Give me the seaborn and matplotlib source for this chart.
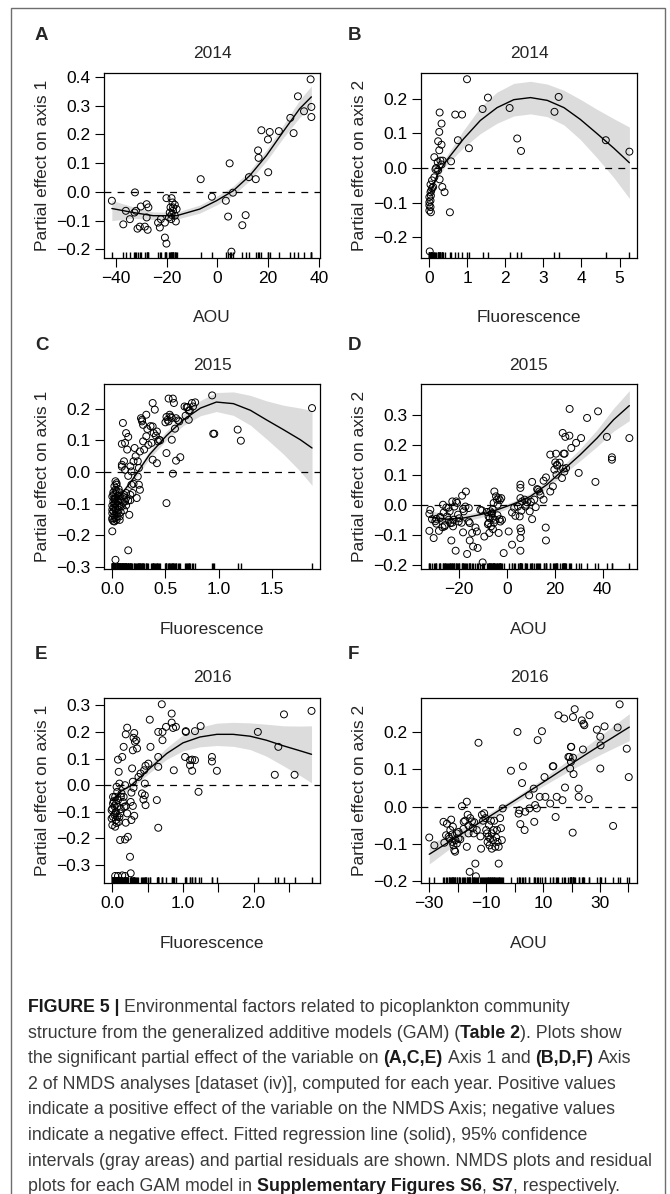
import numpy as np
import pandas as pd
import matplotlib
matplotlib.use("Agg")
import matplotlib.pyplot as plt
import seaborn as sns
from matplotlib.patches import Rectangle

# ---------------- DATA ----------------
# Panel A (2014, AOU vs axis 1)
A_points = [(-41.6,-0.031),(-32.5,-0.002),(-36.1,-0.066),(-37.1,-0.113),(-34.5,-0.095),(-32.1,-0.066),
            (-32.7,-0.072),(-30.2,-0.051),(-31.5,-0.128),(-30.6,-0.121),(-28.6,-0.121),(-27.5,-0.132),
            (-27.9,-0.043),(-27.2,-0.054),(-27.9,-0.089),(-23.4,-0.107),(-22.7,-0.124),(-22.3,-0.095),
            (-20.7,-0.107),(-20.7,-0.159),(-20.1,-0.180),(-20.1,-0.022),(-18.1,-0.022),(-17.7,-0.037),
            (-18.5,-0.054),(-17.5,-0.054),(-16.8,-0.045),(-18.8,-0.072),(-18.1,-0.080),(-17.5,-0.066),
            (-16.8,-0.083),(-16.1,-0.060),(-19.1,-0.089),(-16.4,-0.103),(-18.2,-0.095),(-6.6,0.044),
            (-2.2,-0.017),(3.3,-0.031),(4.8,0.099),(4.2,-0.086),(6.1,-0.003),(5.5,-0.208),(9.8,-0.116),
            (11.1,-0.081),(12.4,0.051),(15.1,0.044),(16.0,0.144),(16.2,0.118),(17.3,0.214),(19.9,0.182),
            (20.6,0.208),(20.0,0.068),(24.2,0.211),(28.7,0.257),(30.0,0.204),(31.7,0.332),(34.1,0.280),
            (36.7,0.391),(37.0,0.295),(37.0,0.260)]
A_curve_x = [-41.6, -33.2, -25.3, -16.1, -7.0, -0.4, 6.1, 12.7, 19.3, 25.8, 32.4, 37.0]
A_curve_y = [-0.058, -0.072, -0.083, -0.083, -0.060, -0.031, 0.003, 0.056, 0.126, 0.208, 0.289, 0.330]
A_lower = [-0.100, -0.092, -0.096, -0.095, -0.074, -0.046, -0.013, 0.039, 0.107, 0.186, 0.259, 0.292]
A_upper = [-0.030, -0.052, -0.070, -0.071, -0.046, -0.016, 0.019, 0.073, 0.145, 0.230, 0.319, 0.368]
A_xticks = [-40, -20, 0, 20, 40]
A_xticklabels = ["\u221240", "\u221220", "0", "20", "40"]
A_yticks = [-0.2, -0.1, 0.0, 0.1, 0.2, 0.3, 0.4]

# Panel B (2014, Fluorescence vs axis 2)
B_points = [(0.99,0.256),(1.54,0.203),(1.40,0.170),(2.11,0.173),(2.31,0.085),(2.41,0.049),(3.29,0.162),
            (3.40,0.205),(4.64,0.080),(5.26,0.047),(0.68,0.154),(0.86,0.154),(0.75,0.080),(1.04,0.057),
            (0.57,0.019),(0.54,-0.128),(0.40,-0.070),(0.34,-0.055),(0.27,0.160),(0.32,0.128),(0.26,0.104),
            (0.23,0.077),(0.32,0.067),(0.26,0.051),(0.13,0.031),(0.29,0.021),(0.35,0.021),(0.22,0.017),
            (0.32,0.010),(0.18,0.000),(0.23,-0.007),(0.16,-0.004),(0.27,-0.033),(0.13,-0.027),(0.07,-0.036),
            (0.03,-0.048),(0.07,-0.058),(0.03,-0.070),(0.04,-0.080),(0.00,-0.084),(0.03,-0.094),(0.00,-0.108),
            (0.03,-0.113),(0.00,-0.123),(0.04,-0.128),(0.00,-0.099),(0.05,-0.065),(0.01,-0.241),(0.10,-0.055)]
B_curve_x = [0.03, 0.20, 0.42, 0.90, 1.34, 1.78, 2.22, 2.66, 3.10, 3.54, 3.97, 4.41, 4.85, 5.26]
B_curve_y = [-0.070, -0.022, 0.017, 0.084, 0.137, 0.174, 0.197, 0.203, 0.195, 0.174, 0.140, 0.099, 0.057, 0.015]
B_lower = [-0.082, -0.032, 0.005, 0.059, 0.099, 0.129, 0.150, 0.156, 0.148, 0.124, 0.082, 0.029, -0.028, -0.088]
B_upper = [-0.058, -0.012, 0.029, 0.109, 0.175, 0.219, 0.244, 0.250, 0.242, 0.224, 0.198, 0.169, 0.142, 0.118]
B_xticks = [0, 1, 2, 3, 4, 5]
B_xticklabels = ["0", "1", "2", "3", "4", "5"]
B_yticks = [-0.2, -0.1, 0.0, 0.1, 0.2]

# Panel C (2015, Fluorescence vs axis 1)
C_points = [(0.94,0.242),(0.96,0.121),(0.95,0.121),(1.18,0.134),(1.21,0.099),(1.88,0.202),(0.78,0.220),
            (0.76,0.207),(0.72,0.194),(0.75,0.218),(0.68,0.207),(0.69,0.178),(0.72,0.165),(0.62,0.163),
            (0.59,0.137),(0.60,0.036),(0.64,0.047),(0.57,-0.005),(0.56,0.102),(0.51,0.060),(0.51,-0.098),
            (0.53,0.232),(0.57,0.232),(0.58,0.218),(0.54,0.181),(0.51,0.174),(0.53,0.160),(0.56,0.171),
            (0.50,0.157),(0.38,0.218),(0.40,0.197),(0.32,0.181),(0.28,0.165),(0.29,0.149),(0.33,0.136),
            (0.38,0.144),(0.39,0.123),(0.32,0.113),(0.29,0.097),(0.34,0.086),(0.42,0.128),(0.43,0.097),
            (0.44,0.102),(0.37,0.092),(0.38,0.039),(0.42,0.028),(0.30,0.071),(0.26,0.065),(0.21,0.076),
            (0.22,0.050),(0.20,0.034),(0.24,0.034),(0.25,0.013),(0.24,-0.014),(0.17,0.018),(0.18,0.002),
            (0.15,-0.012),(0.10,0.155),(0.13,0.123),(0.15,0.111),(0.12,0.092),(0.09,0.089),(0.14,0.071),
            (0.09,0.023),(0.12,0.007),(0.18,-0.040),(0.25,-0.040),(0.20,-0.037),(0.17,-0.072),(0.13,-0.082),
            (0.17,-0.089),(0.10,-0.077),(0.12,-0.093),(0.16,-0.135),(0.15,-0.247),(0.00,-0.187),(0.03,-0.277),
            (0.03,-0.029),(0.04,-0.040),(0.03,-0.056),(0.06,-0.054),(0.01,-0.064),(0.07,-0.064),(0.00,-0.077),
            (0.03,-0.082),(0.05,-0.077),(0.01,-0.093),(0.03,-0.098),(0.06,-0.093),(0.00,-0.106),(0.03,-0.114),
            (0.05,-0.106),(0.01,-0.124),(0.04,-0.127),(0.02,-0.138),(0.00,-0.145),(0.04,-0.151),(0.07,-0.140),
            (0.09,-0.108),(0.08,-0.127),(0.02,-0.156),(0.06,-0.119),(0.10,-0.096),(0.03,-0.068),(0.00,-0.119),
            (0.02,-0.087),(0.07,-0.151),(0.11,-0.072),(0.13,-0.066),(0.19,-0.066),(0.26,-0.056),(0.23,-0.082),
            (0.09,0.017),(0.11,0.034),(0.01,-0.072),(0.02,-0.100),(0.00,-0.130),(0.03,-0.145),(0.05,-0.090),
            (0.01,-0.112),(0.04,-0.060),(0.02,-0.083),(0.06,-0.075),(0.00,-0.150),(0.03,-0.120),(0.05,-0.140),
            (0.01,-0.155),(0.07,-0.110),(0.08,-0.085),(0.02,-0.045),(0.04,-0.035),(0.11,-0.120),(0.13,-0.105),
            (0.15,-0.090),(0.27,0.170),(0.28,0.160),(0.36,0.145),(0.41,0.115),(0.45,0.100),(0.52,0.165),
            (0.55,0.175),(0.60,0.170),(0.63,0.160),(0.70,0.205),(0.71,0.205),(0.73,0.195)]
C_curve_x = [0.00, 0.10, 0.20, 0.35, 0.51, 0.67, 0.83, 0.98, 1.14, 1.30, 1.45, 1.61, 1.77, 1.88]
C_curve_y = [-0.108, -0.064, -0.019, 0.055, 0.115, 0.165, 0.202, 0.221, 0.216, 0.195, 0.165, 0.134, 0.102, 0.076]
C_lower = [-0.120, -0.074, -0.029, 0.043, 0.101, 0.147, 0.178, 0.191, 0.179, 0.148, 0.105, 0.057, 0.002, -0.042]
C_upper = [-0.096, -0.054, -0.009, 0.067, 0.129, 0.183, 0.226, 0.251, 0.253, 0.242, 0.225, 0.211, 0.202, 0.194]
C_xticks = [0.0, 0.5, 1.0, 1.5]
C_xticklabels = ["0.0", "0.5", "1.0", "1.5"]
C_yticks = [-0.3, -0.2, -0.1, 0.0, 0.1, 0.2]

# Panel D (2015, AOU vs axis 2)
D_points = [(-32.5,-0.030),(-32.1,-0.017),(-31.4,-0.048),(-32.5,-0.087),(-30.7,-0.111),(-29.6,-0.047),
            (-29.6,-0.063),(-28.5,-0.087),(-27.9,-0.044),(-26.8,0.000),(-26.5,-0.026),(-26.1,-0.072),
            (-25.4,-0.009),(-25.1,-0.039),(-24.4,-0.050),(-24.0,-0.022),(-23.7,-0.061),(-23.3,-0.119),
            (-22.9,0.011),(-22.6,-0.072),(-22.3,-0.050),(-21.5,-0.153),(-22.0,-0.006),(-20.9,0.006),
            (-21.3,0.011),(-20.5,-0.033),(-20.2,-0.056),(-18.8,0.030),(-18.4,-0.014),(-18.1,-0.022),
            (-18.4,-0.092),(-17.4,-0.006),(-17.2,0.044),(-16.7,-0.164),(-16.0,-0.011),(-16.0,-0.056),
            (-15.6,-0.061),(-15.6,-0.119),(-14.6,-0.094),(-14.2,-0.139),(-13.2,-0.076),(-12.6,-0.089),
            (-12.3,-0.144),(-11.2,-0.017),(-10.5,-0.019),(-10.2,-0.192),(-9.5,-0.106),(-8.4,-0.024),
            (-7.7,-0.039),(-7.7,-0.061),(-7.4,-0.094),(-7.0,-0.022),(-6.7,-0.072),(-6.3,-0.028),
            (-6.0,-0.044),(-5.9,-0.081),(-5.6,0.006),(-5.3,0.044),(-4.9,-0.050),(-4.6,0.028),(-4.2,0.017),
            (-3.9,0.000),(-3.5,0.022),(-3.1,-0.048),(-2.8,-0.056),(-2.1,-0.050),(-2.4,0.022),(-3.5,-0.094),
            (-1.4,-0.161),(0.7,-0.089),(2.1,-0.026),(2.1,-0.133),(3.5,-0.037),(4.6,-0.006),(5.6,0.067),
            (5.6,0.056),(5.6,0.022),(5.3,-0.039),(5.6,-0.078),(5.9,-0.089),(5.6,-0.111),(5.6,-0.153),
            (6.3,0.011),(7.4,0.017),(7.7,-0.006),(8.4,0.008),(9.5,-0.022),(10.5,0.076),(10.5,-0.048),
            (11.4,0.017),(12.0,-0.008),(12.6,0.052),(13.5,0.044),(14.0,0.033),(15.3,0.017),(15.3,0.080),
            (16.3,0.091),(16.2,-0.076),(16.3,-0.119),(18.1,0.167),(18.1,0.044),(19.2,0.061),(19.8,0.117),
            (20.2,0.141),(20.5,0.170),(20.9,0.133),(20.7,0.100),(23.0,0.089),(23.3,0.239),(23.7,0.170),
            (24.1,0.170),(24.4,0.226),(24.7,0.122),(26.1,0.230),(26.9,0.189),(28.9,0.206),(30.0,0.106),
            (31.0,0.222),(33.5,0.289),(37.0,0.076),(38.1,0.311),(41.8,0.226),(43.9,0.158),(43.9,0.150),
            (51.2,0.222),(26.2,0.319),(-6.5,-0.030),(-7.2,-0.045),(-5.5,-0.060),(-4.0,-0.035),(-6.0,-0.015),
            (-3.0,0.015),(-8.0,-0.065),(-23.0,-0.060),(-26.0,-0.068),(-28.0,-0.040),(-24.5,-0.010),
            (-20.0,-0.045),(-19.0,-0.060),(-30.0,-0.055),(-27.0,-0.075),(22.0,0.140),(21.0,0.130),
            (23.5,0.120),(24.0,0.110),(3.0,-0.010),(6.0,-0.020),(8.0,0.000),(13.0,0.050),(10.0,0.010)]
D_curve_x = [-32.5, -25.1, -18.1, -11.2, -4.2, 2.8, 9.8, 16.7, 23.7, 30.7, 37.7, 44.6, 51.2]
D_curve_y = [-0.041, -0.048, -0.044, -0.033, -0.017, 0.003, 0.028, 0.067, 0.117, 0.167, 0.222, 0.283, 0.330]
D_lower = [-0.063, -0.063, -0.056, -0.043, -0.026, -0.006, 0.018, 0.055, 0.102, 0.147, 0.194, 0.245, 0.280]
D_upper = [-0.019, -0.033, -0.032, -0.023, -0.008, 0.012, 0.038, 0.079, 0.132, 0.187, 0.250, 0.321, 0.380]
D_xticks = [-20, 0, 20, 40]
D_xticklabels = ["\u221220", "0", "20", "40"]
D_yticks = [-0.2, -0.1, 0.0, 0.1, 0.2, 0.3]

# Panel E (2016, Fluorescence vs axis 1)
E_points = [(2.82,0.279),(2.43,0.266),(2.06,0.200),(2.35,0.144),(2.30,0.039),(2.58,0.039),(1.48,0.054),
            (1.41,0.106),(1.41,0.089),(1.22,-0.025),(1.25,0.222),(1.17,0.203),(1.13,0.096),(1.17,0.094),
            (1.10,0.075),(1.10,0.094),(1.13,0.054),(1.04,0.203),(1.04,0.200),(1.03,0.106),(0.87,0.056),
            (0.90,0.219),(0.86,0.215),(0.84,0.235),(0.84,0.269),(0.76,0.219),(0.71,0.200),(0.70,0.304),
            (0.65,0.200),(0.71,0.169),(0.65,0.106),(0.65,0.069),(0.63,-0.056),(0.65,-0.160),(0.53,0.246),
            (0.54,0.144),(0.51,0.081),(0.47,0.073),(0.45,0.056),(0.46,0.006),(0.46,-0.038),(0.44,-0.054),
            (0.47,-0.075),(0.42,-0.031),(0.40,0.044),(0.37,0.031),(0.35,0.138),(0.31,0.196),(0.34,0.169),
            (0.32,0.163),(0.30,0.178),(0.29,0.131),(0.28,0.063),(0.29,0.013),(0.30,-0.010),(0.27,-0.028),
            (0.26,-0.063),(0.29,-0.078),(0.27,-0.131),(0.31,-0.115),(0.21,0.216),(0.19,0.191),(0.16,0.144),
            (0.14,0.106),(0.09,0.050),(0.18,0.000),(0.16,-0.044),(0.19,-0.079),(0.21,-0.106),(0.19,-0.141),
            (0.17,-0.081),(0.08,0.096),(0.11,-0.206),(0.18,-0.204),(0.22,-0.194),(0.25,-0.269),(0.10,0.006),
            (0.07,-0.025),(0.04,-0.044),(0.01,-0.069),(-0.01,-0.094),(0.01,-0.119),(0.05,-0.131),(0.00,-0.150),
            (0.04,-0.106),(0.07,-0.081),(0.08,-0.056),(0.11,-0.106),(0.09,-0.138),(0.04,-0.156),(0.01,-0.044),
            (0.06,-0.006),(0.12,-0.044),(0.15,-0.063),(0.13,-0.031),(0.00,-0.088),(0.03,-0.079),(0.05,-0.100),
            (-0.01,-0.125),(0.07,-0.119),(0.08,-0.341),(0.14,-0.339),(0.18,-0.341),(0.26,-0.331),(0.04,-0.341),
            (0.02,-0.060),(0.03,-0.112),(0.06,-0.142),(0.10,-0.120),(0.12,-0.090),(0.05,-0.070)]
E_curve_x = [0.00, 0.11, 0.27, 0.53, 0.77, 1.00, 1.24, 1.48, 1.71, 1.95, 2.18, 2.42, 2.66, 2.82]
E_curve_y = [-0.056, -0.025, 0.000, 0.063, 0.119, 0.159, 0.181, 0.191, 0.191, 0.184, 0.169, 0.148, 0.129, 0.116]
E_lower = [-0.071, -0.037, -0.012, 0.047, 0.097, 0.129, 0.144, 0.149, 0.146, 0.134, 0.109, 0.073, 0.036, 0.009]
E_upper = [-0.041, -0.013, 0.012, 0.079, 0.141, 0.189, 0.218, 0.233, 0.236, 0.234, 0.229, 0.223, 0.222, 0.223]
E_xticks = [0.0, 0.5, 1.0, 1.5, 2.0, 2.5]
E_xticklabels = ["0.0", "", "1.0", "", "2.0", ""]
E_yticks = [-0.3, -0.2, -0.1, 0.0, 0.1, 0.2, 0.3]

# Panel F (2016, AOU vs axis 2)
F_points = [(-30.0,-0.083),(-28.2,-0.104),(-25.0,-0.041),(-24.7,-0.097),(-24.1,-0.077),(-23.8,-0.046),
            (-23.2,-0.081),(-22.9,-0.086),(-22.6,-0.063),(-22.3,-0.035),(-21.7,-0.054),(-21.9,-0.095),
            (-21.5,-0.104),(-21.2,-0.117),(-20.9,-0.121),(-20.3,-0.072),(-20.3,-0.099),(-19.7,-0.086),
            (-19.1,-0.088),(-19.7,-0.068),(-18.5,0.001),(-17.9,-0.041),(-17.4,-0.038),(-16.8,0.013),
            (-16.8,-0.108),(-16.5,-0.022),(-16.2,-0.051),(-16.2,-0.072),(-15.8,-0.175),(-15.6,-0.031),
            (-15.0,-0.040),(-14.7,-0.058),(-14.4,-0.072),(-14.2,-0.042),(-13.8,-0.153),(-13.6,-0.187),
            (-13.3,-0.063),(-12.7,0.171),(-11.8,-0.113),(-11.5,-0.022),(-11.1,-0.038),(-10.7,-0.018),
            (-10.3,-0.031),(-10.0,-0.063),(-9.7,-0.072),(-9.5,-0.095),(-9.2,-0.081),(-8.8,-0.104),
            (-8.6,-0.086),(-8.3,-0.038),(-8.0,-0.072),(-8.0,-0.113),(-7.6,-0.090),(-7.4,-0.063),
            (-7.2,-0.038),(-6.8,-0.108),(-6.5,-0.083),(-6.2,-0.063),(-5.6,-0.153),(-5.6,-0.108),
            (-5.1,-0.031),(-4.8,-0.058),(-4.5,-0.090),(-4.2,-0.005),(-1.3,0.096),(1.0,0.200),(1.4,-0.019),
            (1.7,-0.010),(2.0,-0.047),(2.6,0.063),(2.9,0.108),(3.5,-0.063),(3.7,-0.014),(5.2,-0.005),
            (5.1,0.030),(6.7,0.048),(6.9,-0.041),(7.2,0.004),(8.1,0.178),(7.8,-0.005),(8.8,0.026),
            (9.6,0.202),(10.5,0.079),(10.8,0.026),(12.5,0.008),(13.4,0.108),(13.6,0.108),(14.4,-0.028),
            (14.8,0.026),(15.4,0.245),(16.8,0.017),(17.4,0.236),(17.7,0.051),(18.9,0.133),(19.3,0.133),
            (19.5,0.102),(19.8,0.120),(19.8,0.160),(19.9,0.160),(20.5,0.240),(20.4,-0.070),(20.5,0.131),
            (20.7,0.087),(21.1,0.261),(22.5,0.048),(22.5,0.026),(23.6,0.231),(24.0,0.153),(24.2,0.222),
            (24.5,0.218),(26.0,0.020),(26.3,0.245),(28.9,0.206),(30.1,0.187),(30.2,0.164),(30.1,0.102),
            (31.6,0.215),(34.6,-0.052),(36.2,0.212),(36.9,0.274),(39.4,0.155),(40.1,0.079),
            (-22.0,-0.075),(-20.8,-0.090),(-18.0,-0.060),(-12.0,-0.080),(-9.0,-0.050),(-6.0,-0.095)]
F_curve_x = [-30.0, -20.0, -10.0, 0.0, 10.0, 20.0, 30.0, 40.3]
F_curve_y = [-0.128, -0.080, -0.032, 0.016, 0.065, 0.115, 0.164, 0.213]
F_lower = [-0.154, -0.097, -0.042, 0.008, 0.055, 0.099, 0.139, 0.177]
F_upper = [-0.102, -0.063, -0.022, 0.024, 0.075, 0.131, 0.189, 0.249]
F_xticks = [-30, -20, -10, 0, 10, 20, 30, 40]
F_xticklabels = ["\u221230", "", "\u221210", "", "10", "", "30", ""]
F_yticks = [-0.2, -0.1, 0.0, 0.1, 0.2]

panel_letters = ["A", "B", "C", "D", "E", "F"]
panel_titles = ["2014", "2014", "2015", "2015", "2016", "2016"]
panel_xlabels = ["AOU", "Fluorescence", "Fluorescence", "AOU", "Fluorescence", "AOU"]
panel_ylabels = ["Partial effect on axis 1", "Partial effect on axis 2"] * 3

caption_lines = [
    [("FIGURE 5 |", True, False), ("Environmental factors related to picoplankton community", False, True)],
    [("structure from the generalized additive models (GAM) (", False, False), ("Table 2", True, False),
     ("). Plots show", False, False)],
    [("the significant partial effect of the variable on", False, False), ("(A,C,E)", True, True),
     ("Axis 1 and", False, True), ("(B,D,F)", True, True), ("Axis", False, True)],
    [("2 of NMDS analyses [dataset (iv)], computed for each year. Positive values", False, False)],
    [("indicate a positive effect of the variable on the NMDS Axis; negative values", False, False)],
    [("indicate a negative effect. Fitted regression line (solid), 95% confidence", False, False)],
    [("intervals (gray areas) and partial residuals are shown. NMDS plots and residual", False, False)],
    [("plots for each GAM model in", False, False), ("Supplementary Figures S6", True, True),
     (",", False, False), ("S7", True, True), (", respectively.", False, False)],
]

# ---------------- LAYOUT / STYLE ----------------
sns.set_style("ticks")
plt.rcParams['font.family'] = ['Liberation Sans', 'DejaVu Sans']
plt.rcParams['axes.unicode_minus'] = True

W, H = 670, 1194
fig = plt.figure(figsize=(W / 100, H / 100), dpi=100)
fig.patch.set_facecolor("white")

def fx(x):
    return x / W

def fy(y):
    return 1 - y / H

COL_L = [104, 421]
ROW_T = [73, 384, 698]
AX_W, AX_H = 216, 185
LETTER_Y = [35, 345, 655]
TITLE_Y = [53, 365, 678]
LETTER_X = [35, 348]
FS = 12.5

limits = {
    "A": ((-44.7, 40.4), (-0.230, 0.413)),
    "B": ((-0.22, 5.46), (-0.260, 0.274)),
    "C": ((-0.078, 1.955), (-0.306, 0.278)),
    "D": ((-36.0, 54.4), (-0.214, 0.402)),
    "E": ((-0.118, 2.94), (-0.3675, 0.3275)),
    "F": ((-32.9, 43.0), (-0.205, 0.291)),
}

panels = [
    (A_points, A_curve_x, A_curve_y, A_lower, A_upper, A_xticks, A_xticklabels, A_yticks),
    (B_points, B_curve_x, B_curve_y, B_lower, B_upper, B_xticks, B_xticklabels, B_yticks),
    (C_points, C_curve_x, C_curve_y, C_lower, C_upper, C_xticks, C_xticklabels, C_yticks),
    (D_points, D_curve_x, D_curve_y, D_lower, D_upper, D_xticks, D_xticklabels, D_yticks),
    (E_points, E_curve_x, E_curve_y, E_lower, E_upper, E_xticks, E_xticklabels, E_yticks),
    (F_points, F_curve_x, F_curve_y, F_lower, F_upper, F_xticks, F_xticklabels, F_yticks),
]

def ylab(vals):
    out = []
    for v in vals:
        s = f"{v:.1f}"
        if s == "-0.0":
            s = "0.0"
        out.append(s.replace("-", "\u2212"))
    return out

for i, (pts, cx, cy, lo, hi, xt, xtl, yt) in enumerate(panels):
    col, row = i % 2, i // 2
    l, t = COL_L[col], ROW_T[row]
    ax = fig.add_axes([fx(l), fy(t + AX_H), AX_W / W, AX_H / H])
    df = pd.DataFrame(pts, columns=["x", "y"])
    ax.fill_between(cx, lo, hi, color="#dcdcdc", lw=0, zorder=1)
    ax.axhline(0, color="black", lw=0.9, ls=(0, (5.5, 5.0)), zorder=2)
    sns.lineplot(x=cx, y=cy, ax=ax, color="black", lw=1.0, sort=False, estimator=None, zorder=3)
    sns.scatterplot(data=df, x="x", y="y", ax=ax, s=25, marker="o", legend=False, zorder=4)
    coll = ax.collections[-1]
    coll.set_facecolor("none")
    coll.set_edgecolor("black")
    coll.set_linewidth(0.7)
    sns.rugplot(data=df, x="x", ax=ax, height=0.03, color="black", lw=0.7, expand_margins=False)
    key = panel_letters[i]
    ax.set_xlim(*limits[key][0])
    ax.set_ylim(*limits[key][1])
    ax.set_xticks(xt)
    ax.set_xticklabels(xtl)
    ax.set_yticks(yt)
    ax.set_yticklabels(ylab(yt))
    ax.set_xlabel("")
    ax.set_ylabel("")
    ax.tick_params(direction="out", length=6.5, width=0.8, pad=3, labelsize=FS,
                   color="black", labelcolor="black")
    for s in ax.spines.values():
        s.set_visible(True)
        s.set_linewidth(0.9)
        s.set_color("black")
    ax.set_facecolor("white")
    ccx = l + AX_W / 2
    fig.text(fx(ccx), fy(TITLE_Y[row]), panel_titles[i], ha="center", va="center", fontsize=FS)
    fig.text(fx(l - 61), fy(t + AX_H / 2), panel_ylabels[i], rotation=90, ha="center",
             va="center", fontsize=FS)
    fig.text(fx(ccx), fy(t + AX_H + 60), panel_xlabels[i], ha="center", va="center", fontsize=FS)
    fig.text(fx(LETTER_X[col]), fy(LETTER_Y[row]), key, ha="left", va="center",
             fontsize=13.5, weight="bold")

# outer frame
fig.add_artist(Rectangle((fx(11), fy(1300)), (665 - 11) / W, (1300 - 8) / H,
                         transform=fig.transFigure, fill=False, ec="#6e6e6e", lw=1.0))

# caption
fig.canvas.draw()
renderer = fig.canvas.get_renderer()

def text_w(s, size, bold):
    tt = fig.text(0, 0, s, fontsize=size, weight="bold" if bold else "normal")
    w = tt.get_window_extent(renderer).width
    tt.remove()
    return w

ref = caption_lines[6][0][0]
fs = 12.0 * 624.0 / text_w(ref, 12.0, False)
space_w = text_w("n n", fs, False) - text_w("nn", fs, False)

for k, line in enumerate(caption_lines):
    x = 28.0
    base = 1012 + 25.6 * k
    for s, bold, sp in line:
        if sp:
            x += space_w
        tt = fig.text(fx(x), fy(base), s, fontsize=fs, ha="left", va="baseline",
                      weight="bold" if bold else "normal",
                      color="#1a1a1a" if bold else "#3a3a3a")
        x += tt.get_window_extent(renderer).width

fig.savefig("out.png", dpi=100)
